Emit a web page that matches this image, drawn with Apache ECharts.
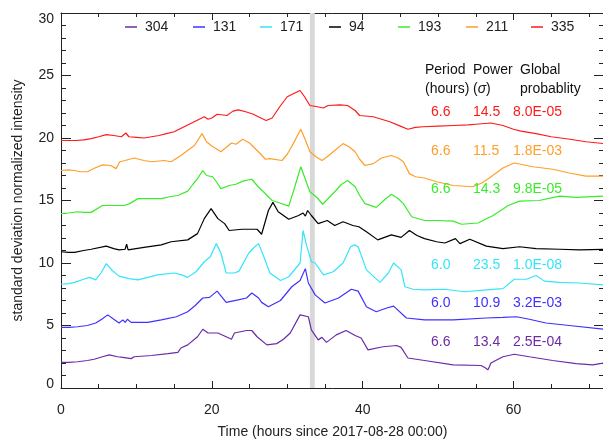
<!DOCTYPE html>
<html>
<head>
<meta charset="utf-8">
<script src="https://cdn.jsdelivr.net/npm/echarts@6/dist/echarts.min.js"></script>
<style>html,body{margin:0;padding:0;background:#fff;}#c{width:603px;height:439px;}</style>
</head>
<body>
<div id="c"></div>
<script>
// ---- data (hours since 2017-08-28 00:00, standard deviation normalized intensity) ----
const channels = ['304', '131', '171', '94', '193', '211', '335'];

const s304 = [[0,2.05],[1,2.05],[2.2,2.1],[3.5,2.2],[4.4,2.3],[5.5,2.5],[6.4,2.65],[7.5,2.5],[8.2,2.45],[9.3,2.35],[9.7,2.5],[12,2.6],[14.2,2.75],[15.5,2.85],[15.9,3.2],[16.8,3.45],[18.1,4.1],[18.8,4.7],[19.5,4.4],[20.8,4.4],[21.9,4.1],[22.6,3.9],[23,4.4],[24.6,4.6],[25.3,4.6],[26,4.1],[27.3,3.45],[28.6,3.55],[29.5,3.9],[30.4,4.4],[31.7,5.85],[32.8,5.7],[33.2,4.65],[34.1,3.85],[34.6,4.05],[35.2,3.65],[36.5,4.25],[37.8,4.6],[39,4.2],[39.8,4.0],[40.7,3.05],[42.7,3.3],[44.5,3.4],[45.1,3.25],[46,2.4],[48.2,2.2],[52,1.85],[55.7,1.8],[56.3,1.6],[56.6,1.45],[56.8,1.7],[57,2.0],[58.6,2.5],[60.1,2.7],[62.1,2.5],[65.2,2.2],[68.3,1.95],[70.5,1.85],[72,2.0]];

const s131 = [[0,4.85],[1,4.85],[2.2,4.9],[3.5,5.0],[4.6,5.2],[5.4,5.5],[6.2,5.85],[7,5.5],[7.7,5.2],[8.2,5.45],[8.5,5.25],[8.8,5.5],[9.3,5.25],[11.5,5.25],[13.3,5.45],[15.3,5.7],[16.8,6.1],[17.8,6.6],[18.8,7.2],[19.7,7.25],[20.7,7.75],[21.9,6.85],[23.5,7.05],[24.6,7.2],[25.3,7.6],[26.2,7.2],[26.6,6.85],[27.5,6.5],[29.1,7.0],[30.6,8.1],[31.7,8.6],[32.4,9.55],[32.8,8.4],[33.7,7.45],[35,6.8],[36.8,7.2],[38.5,7.9],[39.4,7.75],[40.5,6.5],[41.8,6.1],[43.2,6.4],[44.1,6.55],[45.8,5.6],[48.2,5.45],[52,5.45],[56.4,5.6],[58.6,5.65],[60.4,5.7],[62.1,5.5],[64.3,5.2],[67.4,5.0],[72,4.7]];

const s171 = [[0,8.3],[1,8.35],[1.8,8.45],[3,8.7],[3.8,8.85],[4.6,8.65],[5.3,9.2],[6,9.95],[6.8,9.4],[7.7,8.95],[9,8.75],[10.2,8.65],[11.5,8.85],[12.8,9.05],[15,9.2],[16,9.05],[16.8,8.85],[17.9,9.3],[19,10.1],[19.8,10.5],[20.6,11.55],[21.2,10.8],[21.9,9.2],[23,9.2],[23.6,9.35],[24.9,10.8],[25.7,11.3],[26.2,11.55],[26.9,10.5],[27.7,9.2],[29.1,8.6],[30.2,8.9],[31.7,10.0],[32.1,12.6],[32.5,11.55],[33.2,10.1],[33.7,10.0],[34.8,9.05],[36.1,9.3],[37.4,10.0],[38.4,11.3],[38.9,11.45],[39.4,11.3],[40.5,9.45],[42.3,8.45],[43.4,9.2],[44.1,10.0],[45.1,9.45],[45.6,8.1],[46.7,7.9],[48.2,7.85],[50.9,7.9],[53.5,7.7],[56.4,7.85],[58.6,7.95],[60.1,8.7],[61.7,8.7],[63,9.0],[64.1,8.55],[66.1,8.45],[68.7,8.4],[72,8.25]];

const s94 = [[0,10.9],[1,10.85],[1.8,10.85],[3,11.0],[4,11.1],[6,11.35],[7,11.15],[7.7,11.05],[8.5,11.1],[8.7,11.5],[8.9,11.05],[9.1,11.1],[11,11.25],[13.3,11.45],[14.6,11.7],[16.8,11.85],[18.1,12.35],[19,13.55],[19.9,14.35],[20.8,13.55],[21.7,13.15],[22.3,12.6],[24,12.7],[26,12.7],[26.6,12.3],[27.5,14.2],[28.1,14.85],[28.8,14.1],[30.2,13.5],[31.5,13.8],[32.1,14.0],[32.4,13.75],[32.7,14.2],[33.2,13.8],[34.1,13.15],[35.3,13.4],[36.3,13.0],[37.4,13.3],[38.7,13.0],[39.5,12.9],[40.5,12.5],[42,11.85],[43.8,12.25],[45.1,12.05],[46.2,12.6],[47.2,12.2],[48.2,11.95],[49.8,11.7],[50.9,11.6],[52.3,11.95],[52.9,11.55],[54.2,11.9],[56.4,11.35],[58.6,11.15],[60.8,11.3],[63,11.15],[66.1,11.1],[68.7,11.05],[72,11.1]];

const s193 = [[0,13.95],[1,14.0],[2.2,14.1],[3,14.05],[4,14.05],[5.5,14.6],[7,14.6],[8.4,14.6],[9.1,14.75],[10.2,15.15],[11.5,15.15],[13.3,15.15],[14.4,15.3],[15.5,15.4],[16.8,15.75],[17.5,16.3],[18.1,16.75],[18.8,17.4],[19.3,17.0],[20.1,16.9],[20.6,16.5],[21.2,15.95],[22.3,16.2],[23.2,16.3],[24.1,16.55],[25.3,16.7],[26,16.2],[27,15.6],[28,15.0],[29,14.8],[30.2,14.55],[31,16.1],[31.8,17.7],[32.4,16.7],[33,15.7],[34,15.2],[34.7,14.7],[35.5,15.2],[36.3,15.7],[37.2,16.3],[38,16.6],[39,16.1],[39.6,15.4],[40.3,14.75],[41.8,14.45],[42.8,15.0],[43.8,15.5],[44.6,15.2],[45.4,14.75],[46.5,13.7],[48.2,13.4],[49.8,13.4],[52,13.35],[53.1,13.1],[55.3,13.2],[57.3,13.8],[59.3,14.6],[60.8,14.95],[63.4,15.0],[66.1,15.35],[68.3,15.25],[72,15.35]];

const s211 = [[0,17.4],[1,17.45],[1.8,17.4],[2.5,17.3],[3.5,17.3],[4.5,17.6],[5.5,17.85],[6.6,17.8],[7.3,17.55],[7.8,18.1],[8.5,18.2],[9.7,18.4],[11,18.2],[12,18.1],[13.7,18.2],[14.6,18.1],[15.9,18.6],[17,19.1],[17.7,19.4],[18.7,20.35],[19.3,19.7],[19.9,19.4],[21.2,18.9],[22,19.3],[22.6,19.6],[23.2,19.5],[24.1,19.9],[25,19.6],[25.5,19.3],[26.5,18.7],[27.1,18.3],[27.7,18.35],[29.3,18.2],[30,18.7],[30.8,19.55],[31.8,20.7],[32.5,19.7],[33,18.9],[33.8,18.5],[34.6,18.2],[35.3,18.5],[36.1,18.9],[37.4,19.55],[38.2,19.3],[39,18.9],[39.6,18.3],[40.3,17.8],[41.4,17.95],[42.5,18.4],[43.8,18.6],[44.7,18.4],[45.4,18.1],[46.2,17.15],[47,16.9],[48.2,16.8],[49.8,16.5],[52,16.2],[54.6,16.1],[55.8,16.4],[56.8,16.8],[58.6,17.6],[60.1,18.0],[62.6,17.7],[65.2,17.5],[67.4,17.2],[69.6,16.95],[72,16.95]];

const s335 = [[0,19.8],[1,19.8],[2,19.8],[3,19.85],[4,19.95],[5,20.1],[6,20.27],[7,20.2],[8,20.1],[8.6,20.4],[9,20.1],[10,20.05],[11,20.0],[12,20.1],[13,20.2],[14,20.35],[15,20.5],[16,20.8],[17,21.1],[18,21.4],[19,21.7],[19.5,21.5],[20,21.6],[20.7,21.9],[22,21.8],[22.8,22.15],[23.5,22.25],[24.5,22.1],[25.5,21.9],[26.5,21.6],[27.2,21.4],[28,21.6],[29,22.5],[30,23.3],[31,23.6],[31.7,23.8],[32.3,23.3],[33,22.6],[34,22.5],[34.8,22.4],[35.4,22.6],[37,22.65],[38,22.6],[39,22.2],[39.6,21.8],[41.4,21.7],[42.5,21.5],[43.6,21.3],[45,20.95],[46,20.7],[47,20.85],[48,20.9],[50,20.95],[52,21.0],[54,21.05],[55,21.1],[57,21.2],[58.6,21.0],[60,20.7],[61,20.55],[63,20.35],[65,20.1],[67.5,19.9],[69.6,19.7],[72,19.55]];

// significance table (per channel, 94 has none)
const tablePeriod = ['6.6', '6.6', '6.6', '6.0', '6.0', '6.6'];
const tablePower  = ['14.5', '11.5', '14.3', '23.5', '10.9', '13.4'];
const tableProb   = ['8.0E-05', '1.8E-03', '9.8E-05', '1.0E-08', '3.2E-03', '2.5E-04'];
const tableChannel = ['335', '211', '193', '171', '131', '304'];

// grey marker band (hours)
const bandStart = 33.0, bandEnd = 33.65;

const xTicks = { min: 0, max: 72, interval: 20 };
const yTicks = { min: 0, max: 30, interval: 5 };

// ---- styling ----
const colors = { '304': '#6e2aa6', '131': '#4030ff', '171': '#33e5fa', '94': '#000000', '193': '#3aeb2a', '211': '#ff9f2a', '335': '#ff1a1a' };
const seriesData = { '304': s304, '131': s131, '171': s171, '94': s94, '193': s193, '211': s211, '335': s335 };
const FONT = '"Liberation Sans", Arial, Helvetica, sans-serif';
const AX = '#222';
const legendLeft = [125, 193, 260, 329, 398, 466, 531];

const chart = echarts.init(document.getElementById('c'), null, { renderer: 'canvas' });

const series = channels.map((ch, i) => {
  const s = {
    name: ch, type: 'line', data: seriesData[ch], showSymbol: false, symbol: 'none',
    lineStyle: { color: colors[ch], width: 1.2 }, itemStyle: { color: colors[ch] },
    xAxisIndex: 0, yAxisIndex: 0, z: 3, animation: false, silent: true
  };
  if (i === 0) {
    s.markArea = { silent: true, itemStyle: { color: '#d8d8d8' }, data: [[{ xAxis: bandStart }, { xAxis: bandEnd }]], z: 1 };
  }
  return s;
});

// table texts
const graphics = [];
const colX = [425, 473, 520];
const numX = [431, 473, 513];
const headY = [70, 89];
const rowY = { '335': 112, '211': 151, '193': 189, '171': 265, '131': 303, '304': 342 };
function txt(x, y, t, fill, rich) {
  const st = { text: t, fill: fill, font: '14px ' + FONT, verticalAlign: 'middle', align: 'left' };
  if (rich) st.rich = rich;
  graphics.push({ type: 'text', x: x, y: y, style: st, z: 10, silent: true });
}
txt(colX[0], headY[0], 'Period', '#111');
txt(colX[1], headY[0], 'Power', '#111');
txt(colX[2], headY[0], 'Global', '#111');
txt(colX[0], headY[1], '(hours)', '#111');
txt(colX[1], headY[1], '({s|σ})', '#111', { s: { fontStyle: 'italic', fontSize: 14, fontFamily: FONT, fill: '#111', color: '#111' } });
txt(colX[2], headY[1], 'probablity', '#111');
tableChannel.forEach((ch, i) => {
  txt(numX[0], rowY[ch], tablePeriod[i], colors[ch]);
  txt(numX[1], rowY[ch], tablePower[i], colors[ch]);
  txt(numX[2], rowY[ch], tableProb[i], colors[ch]);
});

const legends = channels.map((c, i) => ({
  data: [{ name: c, icon: 'rect' }],
  left: legendLeft[i], top: 20, padding: 0, itemWidth: 12, itemHeight: 1.5, itemGap: 0,
  textStyle: { fontSize: 14, color: '#222', fontFamily: FONT, padding: [0, 0, 0, 3] },
  selectedMode: false
}));

const tickStyle = { color: AX, width: 1 };
const option = {
  animation: false,
  backgroundColor: '#fff',
  textStyle: { fontFamily: FONT },
  grid: { left: 61, right: -1, top: 13, bottom: 51, containLabel: false, outerBoundsMode: 'none' },
  legend: legends,
  xAxis: [
    {
      type: 'value', position: 'bottom', min: xTicks.min, max: xTicks.max, interval: xTicks.interval,
      axisLine: { show: true, lineStyle: { color: AX, width: 1 } },
      axisTick: { show: true, inside: true, length: 7, lineStyle: tickStyle },
      minorTick: { show: true, splitNumber: 4, length: 4, lineStyle: tickStyle },
      splitLine: { show: false }, minorSplitLine: { show: false },
      axisLabel: { show: true, margin: 15, fontSize: 14, color: '#222', fontFamily: FONT, showMaxLabel: false },
      name: 'Time (hours since 2017-08-28 00:00)', nameLocation: 'middle', nameGap: 37,
      nameTextStyle: { fontSize: 14, color: '#222', fontFamily: FONT }
    },
    {
      type: 'value', position: 'top', min: xTicks.min, max: xTicks.max, interval: xTicks.interval,
      axisLine: { show: true, onZero: false, lineStyle: { color: AX, width: 1 } },
      axisTick: { show: true, inside: true, length: 7, lineStyle: tickStyle },
      minorTick: { show: true, splitNumber: 4, length: 4, lineStyle: tickStyle },
      splitLine: { show: false }, axisLabel: { show: false }
    }
  ],
  yAxis: [
    {
      type: 'value', position: 'left', min: yTicks.min, max: yTicks.max, interval: yTicks.interval,
      axisLine: { show: true, onZero: false, lineStyle: { color: AX, width: 1 } },
      axisTick: { show: true, inside: true, length: 10, lineStyle: tickStyle },
      minorTick: { show: true, splitNumber: 5, length: 5, lineStyle: tickStyle },
      splitLine: { show: false }, minorSplitLine: { show: false },
      axisLabel: {
        show: true, margin: 7, fontSize: 14, color: '#222', fontFamily: FONT,
        formatter: v => v === yTicks.max ? '{t|' + v + '}' : (v === yTicks.min ? '{b|' + v + '}' : String(v)),
        rich: {
          t: { fontSize: 14, color: '#222', fontFamily: FONT, padding: [12, 0, 0, 0] },
          b: { fontSize: 14, color: '#222', fontFamily: FONT, padding: [0, 0, 8, 0] }
        }
      },
      name: 'standard deviation normalized intensity', nameLocation: 'middle', nameGap: 36,
      nameTextStyle: { fontSize: 14, color: '#222', fontFamily: FONT }
    },
    {
      type: 'value', position: 'right', min: yTicks.min, max: yTicks.max, interval: yTicks.interval,
      axisLine: { show: true, onZero: false, lineStyle: { color: AX, width: 1 } },
      axisTick: { show: true, inside: true, length: 10, lineStyle: tickStyle },
      minorTick: { show: true, splitNumber: 5, length: 5, lineStyle: tickStyle },
      splitLine: { show: false }, axisLabel: { show: false }
    }
  ],
  series: series,
  graphic: graphics
};
chart.setOption(option);
</script>
</body>
</html>
